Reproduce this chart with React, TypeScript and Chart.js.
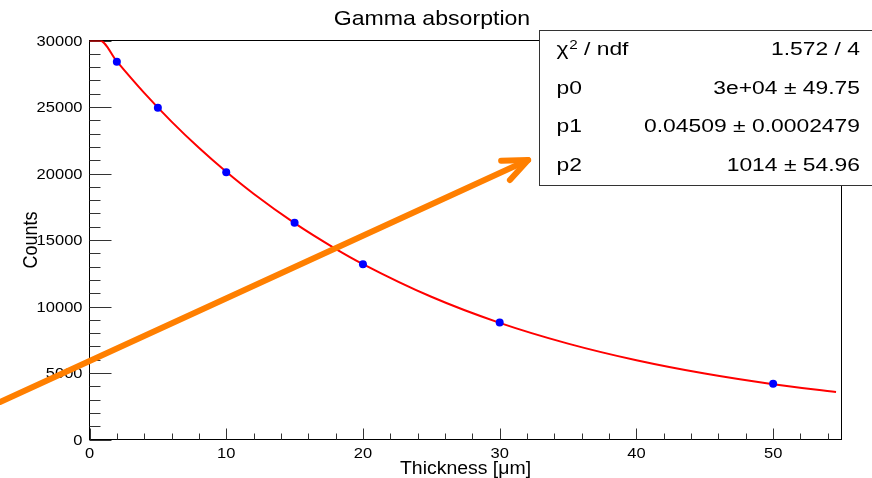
import React, { useEffect, useRef } from "react";
import { Chart, registerables } from "chart.js";

Chart.register(...registerables);

// ---- data ----
const thickness = [2, 5, 10, 15, 20, 30, 50];
const counts = [28400, 24950, 20090, 16300, 13180, 8790, 4200];

// fit curve (clipped at top of frame)
const fitX = [0, 0.76, 2, 4, 6, 8, 10, 12, 15, 18, 20, 25, 30, 35, 40, 45, 50, 54.6];
const fitY = [30000, 30000, 28430, 26060, 23900, 21930, 20130, 18480, 16270, 14340, 13190, 10730, 8770, 7210, 5960, 4960, 4160, 3570];

const xMajorTicks = [0, 10, 20, 30, 40, 50];
const xMinorTicks = [2, 4, 6, 8, 12, 14, 16, 18, 22, 24, 26, 28, 32, 34, 36, 38, 42, 44, 46, 48, 52, 54];
const yMajorTicks = [0, 5000, 10000, 15000, 20000, 25000, 30000];
const yMinorTicks = [
  1000, 2000, 3000, 4000, 6000, 7000, 8000, 9000, 11000, 12000, 13000, 14000,
  16000, 17000, 18000, 19000, 21000, 22000, 23000, 24000, 26000, 27000, 28000, 29000,
];

const statsLabels = ["p0", "p1", "p2"];
const statsChi = "1.572 / 4";
const statsValues = ["3e+04 \u00b1 49.75", "0.04509 \u00b1 0.0002479", "1014 \u00b1 54.96"];

// annotation arrow, in data coordinates
const arrowFrom = [-6.54, 2820];
const arrowTo = [32.08, 21015];

const TITLE = "Gamma absorption";
const X_TITLE = "Thickness [\u03bcm]";
const Y_TITLE = "Counts";

const FONT = '"Liberation Sans", Arial, Helvetica, sans-serif';

function stretchText(
  ctx: CanvasRenderingContext2D,
  text: string,
  x: number,
  y: number,
  align: CanvasTextAlign,
  sx: number
) {
  ctx.save();
  ctx.translate(x, y);
  ctx.scale(sx, 1);
  ctx.textAlign = align;
  ctx.fillText(text, 0, 0);
  ctx.restore();
}

const rootPlugin = {
  id: "rootStyle",
  beforeDatasetsDraw(chart: any) {
    const ctx: CanvasRenderingContext2D = chart.ctx;
    const { left, right, top, bottom } = chart.chartArea;
    const xs = chart.scales.x;
    const ys = chart.scales.y;
    ctx.save();
    // frame
    ctx.strokeStyle = "#000";
    ctx.lineWidth = 1;
    ctx.strokeRect(left, top, right - left, bottom - top);
    // ticks
    ctx.strokeStyle = "#333";
    ctx.beginPath();
    for (const v of yMajorTicks) {
      const y = Math.round(ys.getPixelForValue(v)) + 0.5;
      ctx.moveTo(left, y);
      ctx.lineTo(left + 22, y);
    }
    for (const v of yMinorTicks) {
      const y = Math.round(ys.getPixelForValue(v)) + 0.5;
      ctx.moveTo(left, y);
      ctx.lineTo(left + 11, y);
    }
    for (const v of xMajorTicks) {
      const x = Math.round(xs.getPixelForValue(v)) + 0.5;
      ctx.moveTo(x, bottom);
      ctx.lineTo(x, bottom - 11);
    }
    for (const v of xMinorTicks) {
      const x = Math.round(xs.getPixelForValue(v)) + 0.5;
      ctx.moveTo(x, bottom);
      ctx.lineTo(x, bottom - 6);
    }
    ctx.stroke();
    ctx.restore();
  },
  afterDraw(chart: any) {
    const ctx: CanvasRenderingContext2D = chart.ctx;
    const { left, right, top, bottom } = chart.chartArea;
    const xs = chart.scales.x;
    const ys = chart.scales.y;
    ctx.save();
    ctx.fillStyle = "#000";

    // tick labels
    ctx.font = `15px ${FONT}`;
    ctx.textBaseline = "middle";
    for (const v of yMajorTicks) {
      stretchText(ctx, String(v), left - 7, ys.getPixelForValue(v) + 1, "right", 1.1);
    }
    ctx.textBaseline = "alphabetic";
    for (const v of xMajorTicks) {
      stretchText(ctx, String(v), xs.getPixelForValue(v), bottom + 18, "center", 1.1);
    }

    // axis titles
    ctx.font = `18px ${FONT}`;
    stretchText(ctx, X_TITLE, (left + right) / 2, 474, "center", 1.08);
    ctx.save();
    ctx.translate(37, 240);
    ctx.rotate(-Math.PI / 2);
    ctx.scale(1, 1.1);
    ctx.textAlign = "center";
    ctx.textBaseline = "alphabetic";
    ctx.fillText(Y_TITLE, 0, 0);
    ctx.restore();

    // title
    ctx.font = `21px ${FONT}`;
    stretchText(ctx, TITLE, 432, 25, "center", 1.1);

    // stats box
    const bx = 539.5;
    const by = 30.5;
    const bh = 155;
    ctx.fillStyle = "#fff";
    ctx.fillRect(bx, by, 872 - bx + 10, bh);
    ctx.strokeStyle = "#333";
    ctx.lineWidth = 1;
    ctx.strokeRect(bx, by, 872 - bx + 10, bh);
    ctx.fillStyle = "#000";
    const rows = [49.5, 88, 126.5, 165.5];
    const sx = 1.27;
    const lx = 556.5;
    const rx = 860;
    ctx.textBaseline = "middle";
    ctx.font = `18px ${FONT}`;
    // chi^2 / ndf
    ctx.save();
    ctx.translate(lx, rows[0] + 1);
    ctx.scale(sx, 1);
    ctx.textAlign = "left";
    ctx.fillText("\u03c7", 0, 0);
    let w = ctx.measureText("\u03c7").width;
    ctx.font = `12px ${FONT}`;
    ctx.fillText("2", w + 0.5, -5);
    w += ctx.measureText("2").width + 0.5;
    ctx.font = `18px ${FONT}`;
    ctx.fillText(" / ndf", w, 0);
    ctx.restore();
    stretchText(ctx, statsChi, rx, rows[0] + 1, "right", sx);
    for (let i = 0; i < statsLabels.length; i++) {
      stretchText(ctx, statsLabels[i], lx, rows[i + 1] + 1, "left", sx);
      stretchText(ctx, statsValues[i], rx, rows[i + 1] + 1, "right", sx);
    }

    // arrow
    const x0 = xs.getPixelForValue(arrowFrom[0]);
    const y0 = ys.getPixelForValue(arrowFrom[1]);
    const x1 = xs.getPixelForValue(arrowTo[0]);
    const y1 = ys.getPixelForValue(arrowTo[1]);
    const ang = Math.atan2(y0 - y1, x0 - x1);
    const spread = (23 * Math.PI) / 180;
    const hl = 27;
    ctx.strokeStyle = "#ff7f00";
    ctx.lineWidth = 6;
    ctx.lineCap = "round";
    ctx.lineJoin = "round";
    ctx.beginPath();
    ctx.moveTo(x0, y0);
    ctx.lineTo(x1, y1);
    ctx.stroke();
    ctx.beginPath();
    ctx.moveTo(x1 + hl * Math.cos(ang + spread), y1 + hl * Math.sin(ang + spread));
    ctx.lineTo(x1, y1);
    ctx.lineTo(x1 + hl * Math.cos(ang - spread), y1 + hl * Math.sin(ang - spread));
    ctx.stroke();
    ctx.restore();
  },
};

export default function App() {
  const canvasRef = useRef<HTMLCanvasElement | null>(null);

  useEffect(() => {
    const canvas = canvasRef.current;
    if (!canvas) return;
    const chart = new Chart(canvas, {
      type: "scatter",
      data: {
        datasets: [
          {
            label: "fit",
            data: fitX.map((x, i) => ({ x, y: fitY[i] })),
            showLine: true,
            borderColor: "#ff0000",
            borderWidth: 2,
            pointRadius: 0,
            cubicInterpolationMode: "monotone",
            order: 2,
          },
          {
            label: "data",
            data: thickness.map((x, i) => ({ x, y: counts[i] })),
            showLine: false,
            pointRadius: 4,
            pointBackgroundColor: "#0000ff",
            pointBorderColor: "#0000ff",
            pointBorderWidth: 0,
            order: 1,
          },
        ],
      },
      options: {
        animation: false,
        responsive: true,
        maintainAspectRatio: false,
        layout: { padding: { left: 89.5, right: 30.5, top: 40.5, bottom: 38.5 } },
        plugins: {
          legend: { display: false },
          title: { display: false },
          tooltip: { enabled: false },
        },
        scales: {
          x: { type: "linear", min: 0, max: 55, display: false },
          y: { type: "linear", min: 0, max: 30000, display: false },
        },
      },
      plugins: [rootPlugin],
    });
    return () => chart.destroy();
  }, []);

  return (
    <div style={{ position: "absolute", left: 0, top: 0, width: 872, height: 478, background: "#fff" }}>
      <canvas ref={canvasRef} />
    </div>
  );
}
